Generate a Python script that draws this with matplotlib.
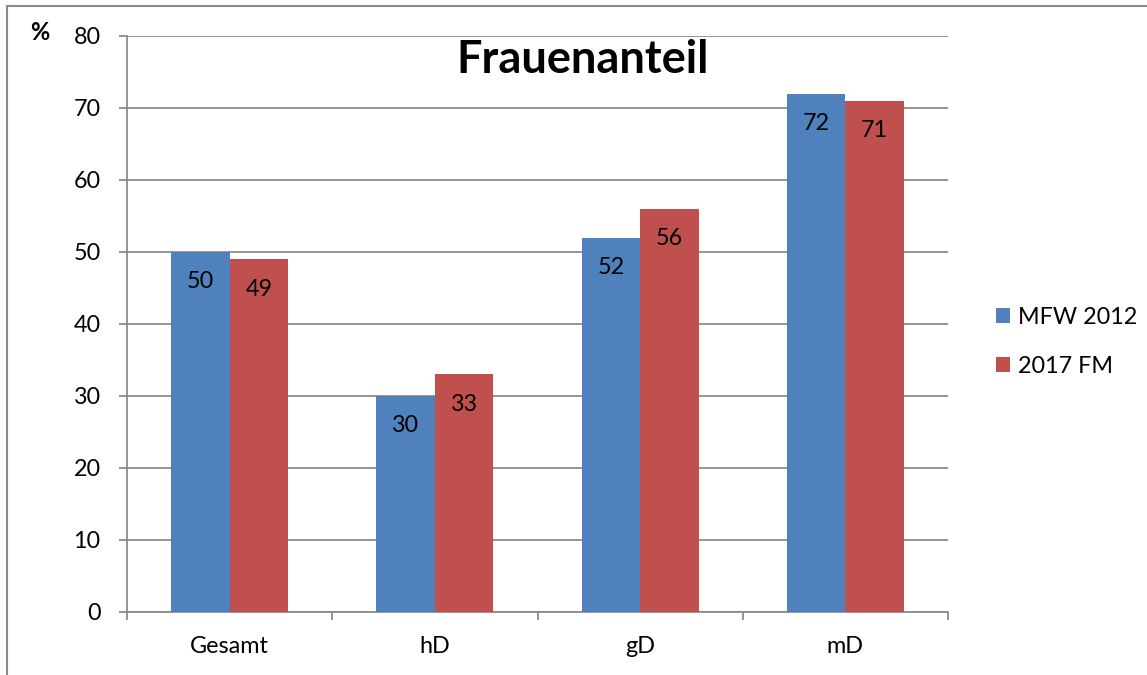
import matplotlib
matplotlib.use("Agg")
import matplotlib.pyplot as plt
import numpy as np
from matplotlib.patches import Rectangle, Patch

categories = ["Gesamt", "hD", "gD", "mD"]
series_names = ["MFW 2012", "2017 FM"]
mfw_2012 = [50, 30, 52, 72]
fm_2017 = [49, 33, 56, 71]
yticks = [0, 10, 20, 30, 40, 50, 60, 70, 80]
title = "Frauenanteil"
colors = ["#4F81BD", "#C0504D"]

plt.rcParams['font.family'] = ['Lato', 'DejaVu Sans']
W, H = 1147, 675
fig = plt.figure(figsize=(W / 100, H / 100), dpi=100)
ax = fig.add_axes([127 / W, 1 - 612 / H, (948 - 127) / W, (612 - 36) / H])

x = np.arange(len(categories))
bw = 0.285
grid_c = "#8C8C8C"
fs = 16.8
for i, (vals, c) in enumerate(zip([mfw_2012, fm_2017], colors)):
    pos = x + (i - 0.5) * bw
    ax.bar(pos, vals, width=bw, color=c, zorder=3, label=series_names[i])
    for p, v in zip(pos, vals):
        ax.annotate(str(v), (p, v), xytext=(0, -21.5), textcoords="offset points",
                    ha="center", va="center", fontsize=fs, color="black", zorder=4)

ax.set_xlim(-0.5, len(categories) - 0.5)
ax.set_ylim(0, 80)
ax.set_yticks(yticks)
ax.set_yticklabels([str(t) for t in yticks], fontsize=fs)
ax.yaxis.grid(True, color=grid_c, linewidth=1.3, zorder=0)
ax.set_xticks(x)
ax.set_xticklabels(categories, fontsize=fs)
ax.tick_params(axis="x", which="major", length=0, pad=17)
ax.set_xticks(np.arange(-0.5, len(categories)), minor=True)
ax.tick_params(axis="x", which="minor", length=6, width=1.3, color=grid_c)
ax.tick_params(axis="y", length=6, width=1.3, color=grid_c, pad=13)
for s in ["top", "right"]:
    ax.spines[s].set_visible(False)
for s in ["left", "bottom"]:
    ax.spines[s].set_color(grid_c)
    ax.spines[s].set_linewidth(1.3)

fig.text(583 / W, 1 - 60 / H, title, ha="center", va="center", fontsize=32.5,
         fontweight="bold")
fig.text(40 / W, 1 - 33 / H, "%", ha="center", va="center", fontsize=17,
         fontweight="bold")

handles = [Patch(facecolor=c) for c in colors]
fig.legend(handles, series_names, loc="center left", bbox_to_anchor=(975 / W, 1 - 342 / H),
           frameon=False, fontsize=fs, handlelength=0.6, handleheight=0.6,
           handletextpad=0.35, labelspacing=1.2)

fig.patches.append(Rectangle((7 / W, -0.1), 1.2, 1 - 6 / H + 0.1, transform=fig.transFigure,
                             fill=False, edgecolor="#8C8C8C", linewidth=1.5))

fig.savefig("out.png", dpi=100)
